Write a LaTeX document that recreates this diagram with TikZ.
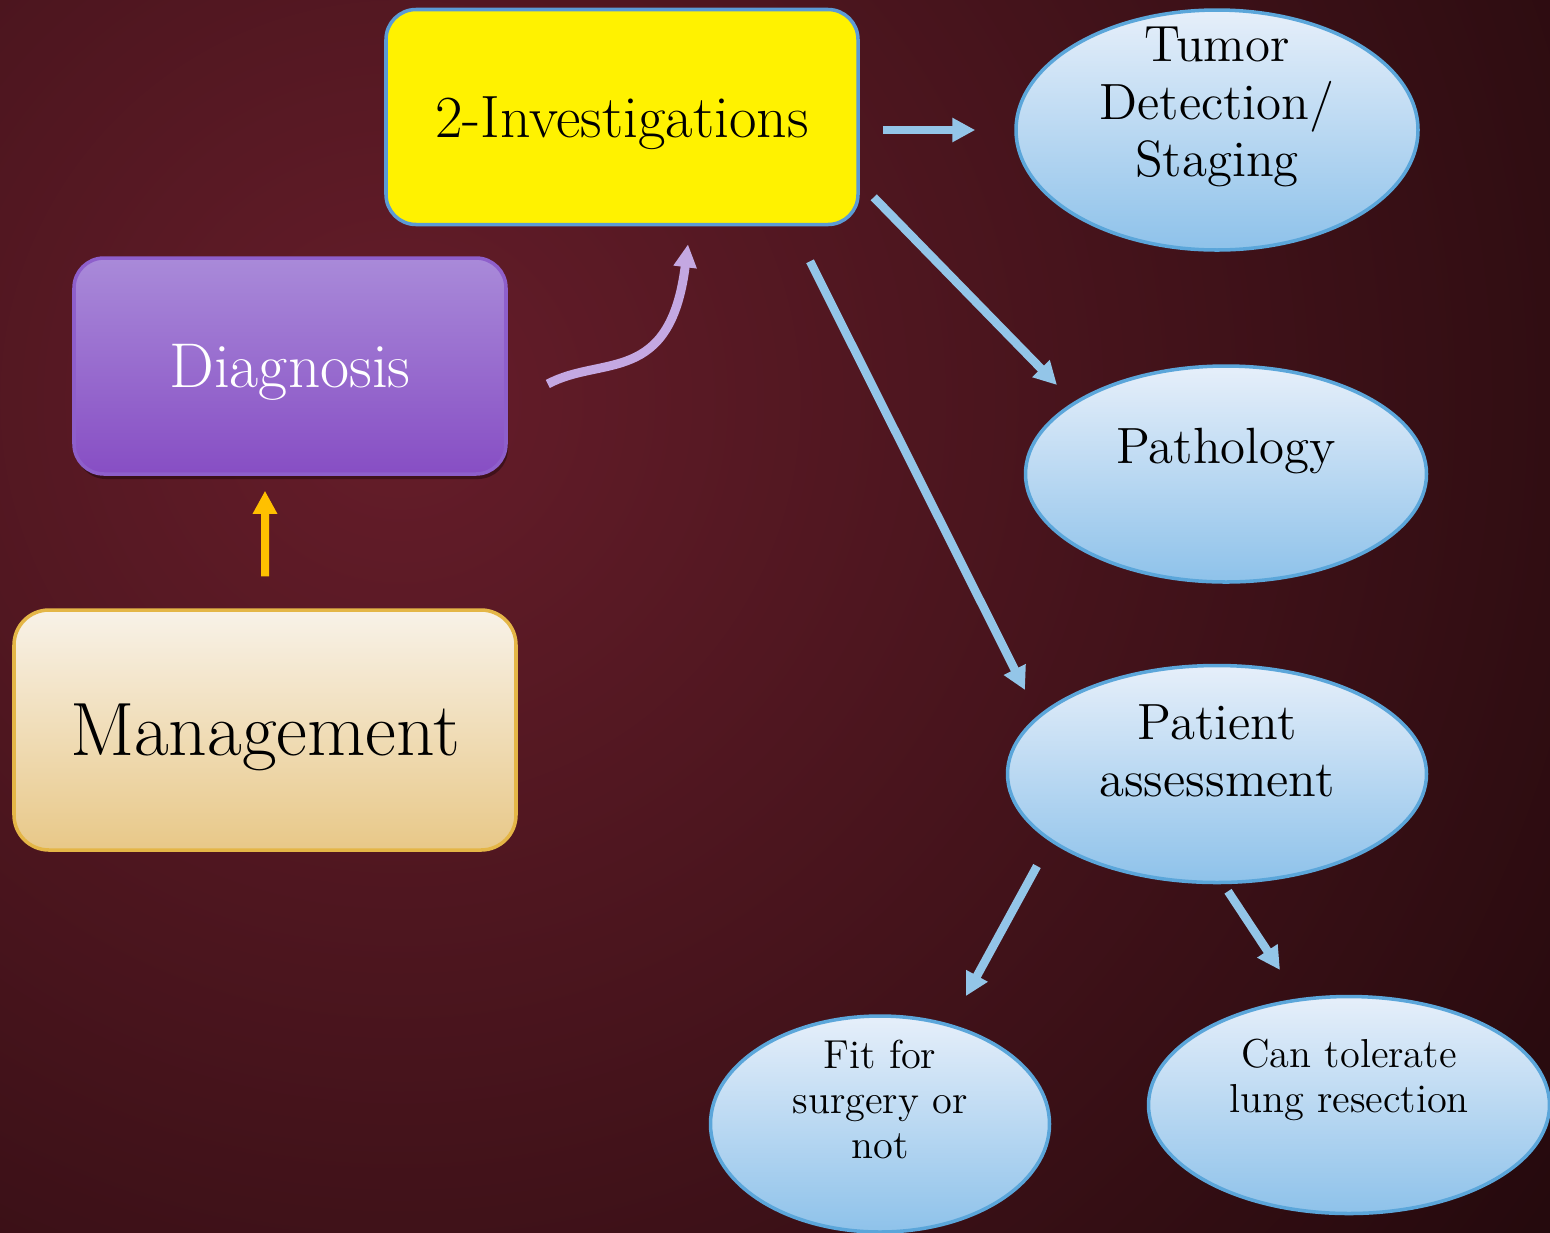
\documentclass[tikz,border=0pt]{standalone}
\usepackage{tikz}
\usetikzlibrary{shapes.geometric,arrows.meta,shadows}

\definecolor{bgin}{HTML}{661D2A}
\definecolor{bgout}{HTML}{1C0709}
\definecolor{arcblue}{HTML}{93C5E8}
\definecolor{ovaltop}{HTML}{E6EFFA}
\definecolor{ovalbot}{HTML}{8EC2EA}
\definecolor{ovalline}{HTML}{5BA6DA}
\definecolor{diagtop}{HTML}{A98AD9}
\definecolor{diagbot}{HTML}{874EC4}
\definecolor{diagline}{HTML}{8E5FCB}
\definecolor{mgmttop}{HTML}{F8F2E8}
\definecolor{mgmtbot}{HTML}{E8C888}
\definecolor{mgmtline}{HTML}{E4B647}
\definecolor{invline}{HTML}{5B9BD5}
\definecolor{curvecol}{HTML}{C4A8E2}
\definecolor{upcol}{HTML}{FFC000}

\begin{document}
\begin{tikzpicture}
          [box/.style={rectangle,rounded corners=0.3cm,line width=1pt,align=center,inner sep=0pt,text depth=0pt},
          invbox/.style={box,fill=yellow,draw=invline,minimum width=4.72cm,minimum height=2.15cm,font=\fontsize{17}{20}\selectfont},
          diagbox/.style={box,top color=diagtop,bottom color=diagbot,draw=diagline,text=white,minimum width=4.32cm,minimum height=2.16cm,
            drop shadow={shadow xshift=0.02cm,shadow yshift=-0.05cm,fill=black,opacity=0.35},font=\fontsize{18}{21}\selectfont},
          mgmtbox/.style={box,rounded corners=0.35cm,top color=mgmttop,bottom color=mgmtbot,draw=mgmtline,minimum width=5.02cm,minimum height=2.40cm,font=\fontsize{21.5}{25}\selectfont},
          oval/.style={ellipse,top color=ovaltop,bottom color=ovalbot,draw=ovalline,line width=1pt,inner sep=0pt},
          bigtext/.style={align=center,yshift=2.3mm,font=\fontsize{14.5}{16.3}\selectfont},
          smalltext/.style={align=center,yshift=2.5mm,font=\fontsize{11.5}{12.8}\selectfont},
          arc/.style={-{Triangle[length=0.23cm,width=0.23cm]},line width=0.085cm,draw=arcblue},
          curve/.style={-{Triangle[length=0.23cm,width=0.22cm]},line width=0.09cm,draw=curvecol},
          uparc/.style={-{Triangle[length=0.23cm,width=0.23cm]},line width=0.08cm,draw=upcol}]

          \useasboundingbox (0,0) rectangle (15.5,-12.32);
          % background
          \fill [bgout] (0,0) rectangle (15.5,-12.32);
          \begin{scope}
            \clip (0,0) rectangle (15.5,-12.32);
            \shade [inner color=bgin,outer color=bgout] (4,-4) circle (16);
          \end{scope}

            \node (inv) [invbox] at (6.22,-1.17) {2-Investigations};
            \node (diag) [diagbox] at (2.90,-3.66) {Diagnosis};
            \node (mgmt) [mgmtbox] at (2.65,-7.30) {Management};

            \node (tumor) [oval,minimum width=4.02cm,minimum height=2.40cm,label={[bigtext]center:{Tumor\\Detection/\\Staging}}] at (12.17,-1.30) {};
            \node (path) [oval,minimum width=4.01cm,minimum height=2.16cm,label={[bigtext]center:Pathology}] at (12.26,-4.74) {};
            \node (pat) [oval,minimum width=4.19cm,minimum height=2.17cm,label={[bigtext]center:{Patient\\assessment}}] at (12.17,-7.74) {};
            \node (fit) [oval,minimum width=3.39cm,minimum height=2.16cm,label={[smalltext]center:{Fit for\\surgery or\\not}}] at (8.80,-11.24) {};
            \node (can) [oval,minimum width=4.01cm,minimum height=2.17cm,label={[smalltext]center:{Can tolerate\\lung resection}}] at (13.49,-11.05) {};

          \draw [uparc] ([yshift=0.32cm]mgmt.north) -- ([shift={(-0.25,-0.15)}]diag.south);
          \draw [curve] ([shift={(0.40,-0.18)}]diag.east) .. controls +(0.54,0.29) and +(-0.18,-1.42) .. ([shift={(0.66,-0.18)}]inv.south);

          \draw [arc] ([shift={(0.23,-0.13)}]inv.east) -- ([xshift=-0.39cm]tumor.west);
            \draw [arc] ([shift={(0.14,0.29)}]inv.south east) -- ([shift={(-1.69,0.89)}]path.center);
            \draw [arc] ([shift={(1.88,-0.35)}]inv.south) -- ([shift={(-1.92,0.84)}]pat.center);
            \draw [arc] ([shift={(-1.80,-0.92)}]pat.center) -- ([shift={(0.86,1.28)}]fit.center);
            \draw [arc] ([shift={(0.11,-0.07)}]pat.south) -- ([shift={(-0.69,1.35)}]can.center);

        \end{tikzpicture}
\end{document}
